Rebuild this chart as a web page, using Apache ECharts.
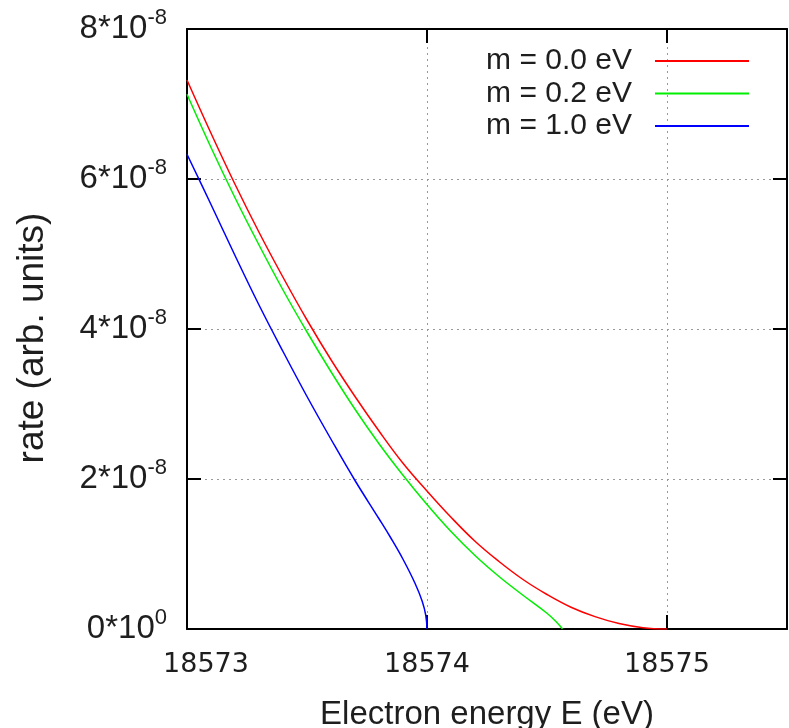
<!DOCTYPE html>
<html><head><meta charset="utf-8">
<script src="https://cdn.jsdelivr.net/npm/echarts@6/dist/echarts.min.js"></script>
<style>html,body{margin:0;padding:0;background:#fff}#c{width:789px;height:728px}</style>
</head><body><div id="c"></div>
<script>
// Series names (legend)
const seriesNames = ['m = 0.0 eV', 'm = 0.2 eV', 'm = 1.0 eV'];
const seriesColors = ['#ff0000', '#00ee00', '#0000ff'];

// m = 0.0 eV  (rate in units of 1e-8)
const redEnergy = [18573.0,18573.1,18573.2,18573.3,18573.4,18573.5,18573.6,18573.7,18573.8,18573.9,18574.0,18574.1,18574.2,18574.3,18574.4,18574.5,18574.6,18574.7,18574.8,18574.9,18575.0];
const redRate   = [7.32,6.61,5.93,5.29,4.69,4.12,3.59,3.10,2.64,2.21,1.84,1.49,1.17,0.90,0.66,0.46,0.29,0.165,0.073,0.018,0];

// m = 0.2 eV
const greenEnergy = [18573.0,18573.1,18573.2,18573.3,18573.4,18573.5,18573.6,18573.7,18573.8,18573.9,18574.0,18574.1,18574.2,18574.3,18574.4,18574.5,18574.54,18574.565];
const greenRate   = [7.13,6.42,5.75,5.12,4.52,3.96,3.43,2.93,2.47,2.05,1.66,1.30,0.98,0.70,0.45,0.21,0.09,0];

// m = 1.0 eV
const blueEnergy = [18573.0,18573.1,18573.2,18573.3,18573.4,18573.5,18573.6,18573.7,18573.8,18573.85,18573.9,18573.95,18573.98,18573.995,18574.0];
const blueRate   = [6.33,5.66,4.98,4.32,3.70,3.10,2.53,1.98,1.47,1.21,0.93,0.61,0.37,0.18,0];

// axis settings
const xTickValues = [18573, 18574, 18575];
const yTickValues = [0, 2, 4, 6, 8]; // x 1e-8
const rateUnit = 1e-8;

const txt = '#1e1e1e';
const frame = {show: true, onZero: false, lineStyle: {color: '#000', width: 2}};
const ticks = {show: true, inside: true, length: 14, lineStyle: {color: '#000', width: 2}};
const grid = {show: true, lineStyle: {color: '#999', width: 1, type: [2, 4]}};

function pairs(xs, ys) { return xs.map((x, i) => [x, ys[i] * rateUnit]); }

const chart = echarts.init(document.getElementById('c'), null, {renderer: 'canvas'});
chart.setOption({
  animation: false,
  backgroundColor: '#fff',
  grid: {left: 187, top: 29, width: 600, height: 600, containLabel: false, outerBoundsMode: 'none'},
  legend: {
    orient: 'vertical', right: 35, top: 41, align: 'right',
    icon: 'rect', itemWidth: 94, itemHeight: 2, itemGap: 2.5,
    textStyle: {fontSize: 30, fontFamily: 'Liberation Sans', color: txt, padding: [0, 18, 0, 0]},
    data: seriesNames
  },
  xAxis: [{
    type: 'value', position: 'bottom', min: 18573, max: 18575.5, interval: 1,
    axisLine: frame, axisTick: ticks, splitLine: grid,
    axisLabel: {
      margin: 22, showMaxLabel: false,
      formatter: v => xTickValues.indexOf(v) === 0 ? '{f|' + v + '}' : (xTickValues.indexOf(v) > 0 ? '{n|' + v + '}' : ''),
      rich: {
        f: {fontSize: 27, fontFamily: 'DejaVu Sans', color: txt, padding: [0, 0, 0, 38]},
        n: {fontSize: 27, fontFamily: 'DejaVu Sans', color: txt}
      }
    },
    name: 'Electron energy E (eV)', nameLocation: 'middle', nameGap: 69,
    nameTextStyle: {fontSize: 33, fontFamily: 'Liberation Sans', color: txt}
  }, {
    type: 'value', position: 'top', min: 18573, max: 18575.5, interval: 1,
    axisLine: frame, axisTick: ticks, splitLine: {show: false}, axisLabel: {show: false}
  }],
  yAxis: [{
    type: 'value', position: 'left', min: 0, max: 8e-8, interval: 2e-8,
    axisLine: frame, axisTick: ticks, splitLine: grid,
    axisLabel: {
      margin: 20,
      formatter: v => {
        const n = Math.round(v / rateUnit);
        if (yTickValues.indexOf(n) < 0) return '';
        return n === 0 ? '{b|0*10}{s|0}' : '{b|' + n + '*10}{s|-8}';
      },
      rich: {
        b: {fontSize: 33, fontFamily: 'Liberation Sans', color: txt},
        s: {fontSize: 22, fontFamily: 'Liberation Sans', color: txt, padding: [0, 0, 22, 0]}
      }
    },
    name: 'rate (arb. units)', nameLocation: 'middle', nameGap: 136, nameRotate: 90,
    nameTextStyle: {fontSize: 37, fontFamily: 'Liberation Sans', color: txt, padding: [0, 18, 0, 0]}
  }, {
    type: 'value', position: 'right', min: 0, max: 8e-8, interval: 2e-8,
    axisLine: frame, axisTick: ticks, splitLine: {show: false}, axisLabel: {show: false}
  }],
  series: [
    {name: seriesNames[0], type: 'line', data: pairs(redEnergy, redRate)},
    {name: seriesNames[1], type: 'line', data: pairs(greenEnergy, greenRate)},
    {name: seriesNames[2], type: 'line', data: pairs(blueEnergy, blueRate)}
  ].map((s, i) => Object.assign(s, {
    xAxisIndex: 0, yAxisIndex: 0, showSymbol: false, symbol: 'none',
    smooth: 0.4, clip: true,
    color: seriesColors[i], lineStyle: {color: seriesColors[i], width: 1.5}
  }))
});
</script>
</body></html>
